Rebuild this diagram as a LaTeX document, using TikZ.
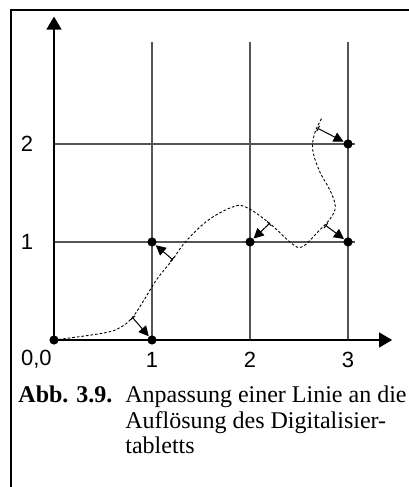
\documentclass[tikz,border=0pt]{standalone}
\usepackage{fontspec}
\setmainfont{Liberation Serif}
\setsansfont{Liberation Sans}
\usepackage{xcolor}
\usepackage{tikz}
\usetikzlibrary{arrows.meta,positioning,calc}
\definecolor{ink}    {HTML}{000000}
\definecolor{gridGr} {HTML}{555555}

\begin{document}
\begin{tikzpicture}[x=49pt, y=49pt,
    gridline/.style={draw=gridGr, line width=0.55pt},
    axis/.style={draw=ink, line width=0.6pt, -{Triangle[length=6.5pt,width=7.5pt]}},
    dot/.style={circle, fill=ink, inner sep=0pt, minimum size=4.6pt},
    snap/.style={draw=ink, line width=0.5pt, {Bar[width=3pt]}-{Triangle[length=5pt,width=5pt]}},
    curve/.style={draw=ink, line width=0.45pt, dash pattern=on 1.3pt off 1pt},
    lbl/.style={font=\sffamily\fontsize{11}{13}\selectfont, inner sep=0pt},
    capt/.style={font=\fontsize{12}{13}\selectfont, inner sep=0pt, anchor=base west}]
  \useasboundingbox (-0.551,-1.5) rectangle (3.622,3.469);
  % frame
  \draw[ink, line width=1pt] (-0.439,-1.5) -- (-0.439,3.362) -- (3.622,3.362);
  % grid
  \foreach \i in {1,2,3}{ \draw[gridline] (\i,0) -- (\i,3.04); }
  \foreach \j in {1,2}{ \draw[gridline] (0,\j) -- (3.07,\j); }
  \draw[axis] (0,0) -- (3.45,0);
  \draw[axis] (0,0) -- (0,3.30);
  % labels
  \node[lbl] (l00) at (-0.18,-0.20) {0,0};
  \foreach \i in {1,2,3}{ \node[lbl] (lx\i) at (\i,-0.20) {\i}; }
  \foreach \j in {1,2}{ \node[lbl] (ly\j) at (-0.276,\j) {\j}; }
  % digitized line
  \draw[curve] plot[smooth, tension=0.6] coordinates {(0,0) (0.50,0.07) (0.68,0.13)
     (0.80,0.23) (0.92,0.41) (1.05,0.62) (1.21,0.82) (1.34,1.0) (1.57,1.22) (1.83,1.36)
     (1.97,1.35) (2.20,1.19) (2.42,0.99) (2.53,0.95) (2.69,1.10) (2.82,1.24) (2.87,1.36)
     (2.82,1.52) (2.71,1.72) (2.64,1.94) (2.66,2.11) (2.73,2.26)};
  % tablet points
  \node[dot] (p00) at (0,0) {};
  \node[dot] (p10) at (1,0) {};
  \node[dot] (p11) at (1,1) {};
  \node[dot] (p21) at (2,1) {};
  \node[dot] (p31) at (3,1) {};
  \node[dot] (p32) at (3,2) {};
  \coordinate (c10) at (0.80,0.23);
  \coordinate (c11) at (1.21,0.82);
  \coordinate (c21) at (2.20,1.19);
  \coordinate (c31) at (2.77,1.17);
  \coordinate (c32) at (2.69,2.16);
  \foreach \c in {10,11,21,31,32}{ \draw[snap] (c\c) -- (p\c); }
  % caption
  \node[capt] (cnum) at (-0.367,-0.633) {\textbf{Abb. 3.9.}};
  \node[capt] (cl1) at (0.724,-0.633) {Anpassung einer Linie an die};
  \node[capt] (cl2) at (0.724,-0.898) {Auflösung des Digitalisier-};
  \node[capt] (cl3) at (0.724,-1.163) {tabletts};
\end{tikzpicture}
\end{document}
